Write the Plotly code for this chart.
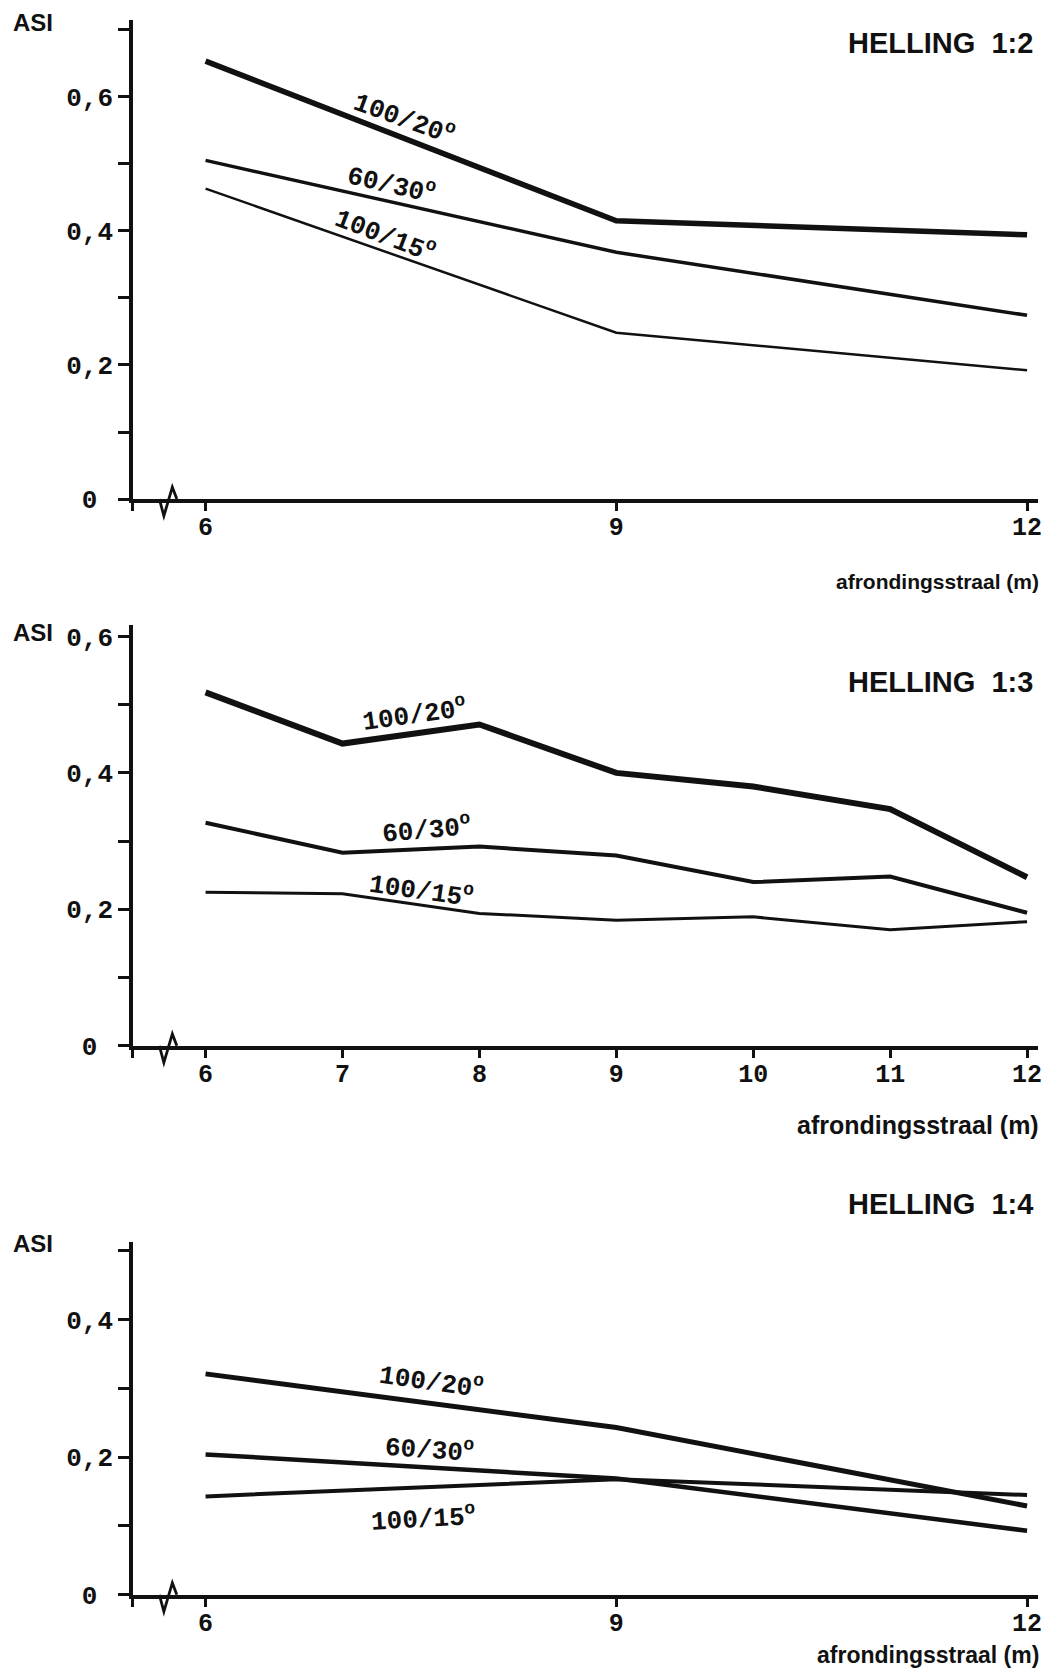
import plotly.graph_objects as go

W, H = 1047, 1679

# ---------------- data ----------------
series_names = ["100/20", "60/30", "100/15"]

x_helling_12 = [6, 9, 12]
asi_12_100_20 = [0.653, 0.415, 0.394]
asi_12_60_30 = [0.505, 0.368, 0.274]
asi_12_100_15 = [0.463, 0.248, 0.192]

x_helling_13 = [6, 7, 8, 9, 10, 11, 12]
asi_13_100_20 = [0.518, 0.443, 0.471, 0.400, 0.380, 0.347, 0.247]
asi_13_60_30 = [0.327, 0.283, 0.292, 0.279, 0.240, 0.248, 0.195]
asi_13_100_15 = [0.225, 0.223, 0.194, 0.184, 0.189, 0.170, 0.182]

x_helling_14 = [6, 9, 12]
asi_14_100_20 = [0.321, 0.243, 0.129]
asi_14_60_30 = [0.204, 0.169, 0.093]
asi_14_100_15 = [0.143, 0.168, 0.145]

panel_titles = ["HELLING  1:2", "HELLING  1:3", "HELLING  1:4"]
x_axis_title = "afrondingsstraal (m)"
y_axis_title = "ASI"

x_ticks_12 = [6, 9, 12]
x_ticks_13 = [6, 7, 8, 9, 10, 11, 12]
x_ticks_14 = [6, 9, 12]

y_ticks_12 = [0, 0.1, 0.2, 0.3, 0.4, 0.5, 0.6, 0.7]
y_text_12 = ["0\u00a0", "", "0,2", "", "0,4", "", "0,6", ""]
y_ticks_13 = [0, 0.1, 0.2, 0.3, 0.4, 0.5, 0.6]
y_text_13 = ["0\u00a0", "", "0,2", "", "0,4", "", "0,6"]
y_ticks_14 = [0, 0.1, 0.2, 0.3, 0.4, 0.5]
y_text_14 = ["0\u00a0", "", "0,2", "", "0,4", ""]

panels_data = [
    (x_helling_12, [asi_12_100_20, asi_12_60_30, asi_12_100_15], x_ticks_12, y_ticks_12, y_text_12),
    (x_helling_13, [asi_13_100_20, asi_13_60_30, asi_13_100_15], x_ticks_13, y_ticks_13, y_text_13),
    (x_helling_14, [asi_14_100_20, asi_14_60_30, asi_14_100_15], x_ticks_14, y_ticks_14, y_text_14),
]

# ---------------- style / layout (pixel positions) ----------------
INK = "#111111"
MONO = "Liberation Mono"
SANS = "Liberation Sans"

YS = 1.009  # vertical stretch correction for pixel positions

X_LEFT_PX, X_RIGHT_PX = 133.5, 1042.0
X_RANGE = [5.47, 12.08]

panel_style = [
    dict(y0=499.0, ytop=18.6, yrange=[0, 0.715], widths=[5.5, 3.5, 2.5],
         asi_y=22, title_y=42, xtitle_y=582, xtitle_size=21, xtitle_anchor="middle",
         labels=[(406, 117, 20), (393, 183, 13), (387, 234, 21)]),
    dict(y0=1046.7, ytop=625.0, yrange=[0, 0.617], widths=[6.0, 4.0, 3.0],
         asi_y=633, title_y=682, xtitle_y=1126, xtitle_size=25, xtitle_anchor="middle",
         labels=[(416, 714, -8), (428, 830, -5), (423, 891, 8)]),
    dict(y0=1596.7, ytop=1243.0, yrange=[0, 0.513], widths=[5.0, 4.5, 4.0],
         asi_y=1245, title_y=1205, xtitle_y=(H + 7) / YS, xtitle_size=23, xtitle_anchor="bottom",
         labels=[(433, 1383, 8), (431, 1451, 4), (425, 1520, -3)]),
]


def fx(px):
    return px / W


def fy(py):
    return 1 - (py * YS) / H


fig = go.Figure()
annotations = []
shapes = []

for i, ((xs, ys_list, xticks, yticks, ytext), st) in enumerate(zip(panels_data, panel_style)):
    n = "" if i == 0 else str(i + 1)
    xa, ya = "x" + n, "y" + n
    for name, ys, w in zip(series_names, ys_list, st["widths"]):
        fig.add_trace(go.Scatter(
            x=xs, y=ys, mode="lines", name=name, showlegend=False,
            line=dict(color=INK, width=w, shape="linear"),
            xaxis=xa, yaxis=ya, hoverinfo="skip",
        ))

    fig.layout["xaxis" + n] = dict(
        domain=[fx(X_LEFT_PX), fx(X_RIGHT_PX)], range=X_RANGE, anchor=ya,
        showgrid=False, zeroline=False, showline=True, linewidth=3.5, linecolor=INK,
        ticks="outside", ticklen=8, tickwidth=2.5, tickcolor=INK,
        tickvals=[X_RANGE[0]] + xticks, ticktext=[""] + [str(v) for v in xticks],
        tickfont=dict(family=MONO, size=25, color=INK, weight="bold"),
        ticklabelstandoff=-6, fixedrange=True,
    )
    fig.layout["yaxis" + n] = dict(
        domain=[fy(st["y0"]), fy(st["ytop"])], range=st["yrange"], anchor=xa,
        showgrid=False, zeroline=False, showline=True, linewidth=3.5, linecolor=INK,
        ticks="outside", ticklen=11, tickwidth=2.5, tickcolor=INK,
        tickvals=yticks, ticktext=ytext,
        tickfont=dict(family=MONO, size=26, color=INK, weight="bold"),
        ticklabelstandoff=0, fixedrange=True,
    )

    # axis break zig-zag
    y0 = st["y0"]
    pts = [(160, y0), (164.5, y0 + 17 / YS), (173, y0 - 12 / YS), (177.5, y0)]
    path = "M " + " L ".join(f"{fx(px)},{fy(py)}" for px, py in pts)
    shapes.append(dict(type="path", xref="paper", yref="paper", path=path,
                       line=dict(color=INK, width=2.8)))

    # ASI
    annotations.append(dict(text=y_axis_title, xref="paper", yref="paper",
                            x=fx(11), y=fy(st["asi_y"]), xanchor="left", yanchor="middle",
                            showarrow=False,
                            font=dict(family=SANS, size=24, color=INK, weight="bold")))
    # title
    annotations.append(dict(text=panel_titles[i], xref="paper", yref="paper",
                            x=fx(1039), y=fy(st["title_y"]), xanchor="right", yanchor="middle",
                            showarrow=False,
                            font=dict(family=SANS, size=29, color=INK, weight="bold")))
    # x title
    annotations.append(dict(text=x_axis_title, xref="paper", yref="paper",
                            x=fx(1044), y=fy(st["xtitle_y"]), xanchor="right",
                            yanchor=st["xtitle_anchor"], showarrow=False, borderpad=0,
                            font=dict(family=SANS, size=st["xtitle_size"], color=INK,
                                      weight="bold")))
    # series labels
    for name, (lx, ly, ang) in zip(series_names, st["labels"]):
        annotations.append(dict(text=name + "<sup>o</sup>", xref="paper", yref="paper",
                                x=fx(lx), y=fy(ly), xanchor="center", yanchor="middle",
                                textangle=ang, showarrow=False,
                                font=dict(family=MONO, size=26, color=INK, weight="bold")))

fig.update_layout(
    width=W, height=H, margin=dict(l=0, r=0, t=0, b=0),
    paper_bgcolor="white", plot_bgcolor="white",
    showlegend=False, annotations=annotations, shapes=shapes,
)

fig.write_html("out.html", config=dict(displayModeBar=False))
